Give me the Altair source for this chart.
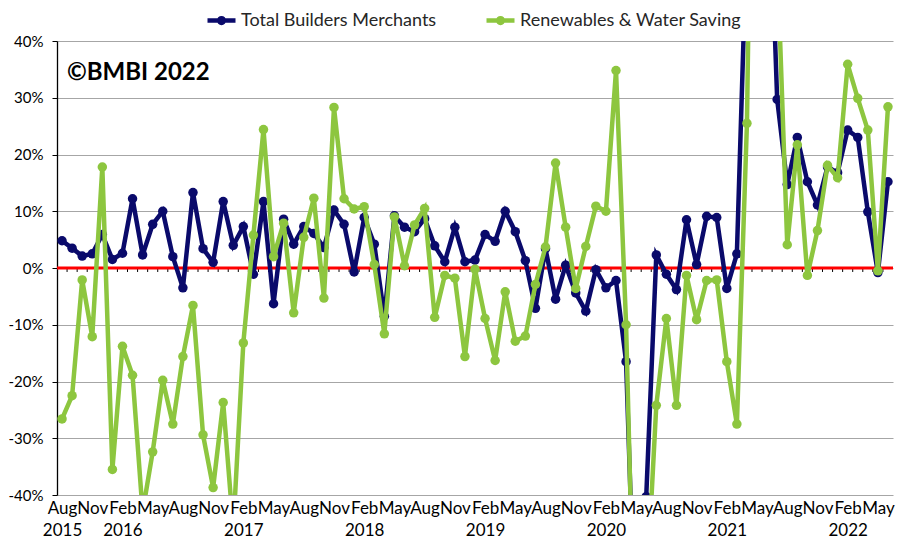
import altair as alt
import pandas as pd

# ---------------- data ----------------
SERIES = ["Total Builders Merchants", "Renewables & Water Saving"]
COLORS = ["#0a0a6b", "#8dc63f"]

MONTHS = ["Jan", "Feb", "Mar", "Apr", "May", "Jun", "Jul", "Aug", "Sep", "Oct", "Nov", "Dec"]
START_YEAR, START_MONTH, N_MONTHS = 2015, 8, 83   # Aug 2015 .. Jun 2022

total_builders = [
    4.8, 3.5, 2.1, 2.5, 5.9, 1.5, 2.6, 12.2, 2.3, 7.7, 10.0, 2.0, -3.5, 13.3,
    3.4, 1.0, 11.7, 4.0, 7.3, -1.1, 11.7, -6.3, 8.6, 4.2, 7.3, 6.1, 3.6, 10.2,
    7.7, -0.7, 8.9, 4.2, -8.5, 9.2, 7.2, 6.4, 8.7, 3.9, 1.1, 7.2, 1.1, 1.4,
    5.9, 4.7, 10.0, 6.4, 1.3, -7.1, 3.4, -5.5, 0.5, -4.4, -7.6, -0.3, -3.5, -2.2,
    -16.5, -70.0, -40.3, 2.3, -1.1, -3.8, 8.5, 0.6, 9.1, 8.9, -3.6, 2.5,
    60.0, 220.0, 80.0, 29.7, 14.7, 23.0, 15.2, 11.1, 17.8, 16.8, 24.3, 23.0, 9.9, -0.8, 15.2,
]
renewables_water = [
    -26.6, -22.5, -2.1, -12.1, 17.8, -35.5, -13.8, -18.9, -43.0, -32.4, -19.8, -27.5, -15.6, -6.6,
    -29.4, -38.7, -23.7, -46.0, -13.2, 5.8, 24.4, 2.0, 7.9, -7.9, 5.4, 12.3, -5.3, 28.3,
    12.2, 10.4, 10.8, 0.6, -11.6, 9.0, 0.4, 7.6, 10.5, -8.7, -1.3, -1.8, -15.6, -0.2,
    -8.9, -16.3, -4.2, -12.9, -12.0, -2.9, 3.7, 18.5, 7.2, -3.6, 3.8, 10.9, 10.0, 34.8,
    -10.0, -80.0, -58.0, -24.2, -8.9, -24.2, -1.3, -9.1, -2.2, -2.1, -16.5, -27.5,
    25.5, 150.0, 120.0, 55.0, 4.1, 21.7, -1.3, 6.6, 18.1, 15.9, 35.9, 29.9, 24.3, -0.5, 28.4,
]
Y_TICKS = [-40, -30, -20, -10, 0, 10, 20, 30, 40]
LABEL_EVERY = 3

# ---------------- derived tables ----------------
ym = [(START_YEAR + (START_MONTH - 1 + k) // 12, (START_MONTH - 1 + k) % 12) for k in range(N_MONTHS)]
tick_idx = list(range(0, N_MONTHS - 1, LABEL_EVERY))
tick_text = []
for k in tick_idx:
    y, m = ym[k]
    t = MONTHS[m]
    if k == 0 or m == 1:
        t += "|" + str(y)
    tick_text.append(t)
label_array = "[" + ",".join("'" + t + "'" for t in tick_text) + "]"
label_expr = f"split({label_array}[round(datum.value / {LABEL_EVERY})], '|')"

rows = []
for name, vals in zip(SERIES, [total_builders, renewables_water]):
    for k, v in enumerate(vals):
        rows.append({"i": k, "series": name, "value": v})
df = pd.DataFrame(rows)
bounds = pd.DataFrame({"i": [k + 0.5 for k in range(N_MONTHS - 1)], "z0": 0.0, "z1": -0.7})

FONT = "Lato"
PATH = "M-1,0L1,0M-0.17,0A0.17,0.17,0,1,1,0.17,0A0.17,0.17,0,1,1,-0.17,0"

x_scale = alt.Scale(domain=[-0.5, N_MONTHS - 0.5], nice=False, zero=False)
y_scale = alt.Scale(domain=[-40, 40], nice=False, zero=False)
x_axis = alt.Axis(values=tick_idx, labelExpr=label_expr, grid=False, domain=False, ticks=False,
                  labelPadding=5, labelFontSize=17, labelLineHeight=22, labelColor="black",
                  labelFont=FONT, labelAngle=0, labelFlush=False, labelOverlap=False,
                  labelBound=False, title=None)
y_axis = alt.Axis(values=Y_TICKS, labelExpr="datum.value + '%'", grid=True, gridColor="#a6a6a6",
                  gridWidth=1, domainColor="black", domainWidth=1.3, tickColor="black", tickSize=5,
                  labelPadding=9, labelFontSize=15, labelColor="black", labelFont=FONT,
                  labelOverlap=False, title=None)
x_enc = alt.X("i:Q", scale=x_scale, axis=x_axis)
y_enc = alt.Y("value:Q", scale=y_scale, axis=y_axis)
color_enc = alt.Color(
    "series:N",
    scale=alt.Scale(domain=SERIES, range=COLORS),
    legend=alt.Legend(title=None, orient="none", legendX=148, legendY=-37, direction="horizontal",
                      symbolType=PATH, symbolSize=784, symbolStrokeWidth=4.5, labelFontSize=18,
                      labelFont=FONT, labelColor="#262626", columnPadding=40, labelOffset=3,
                      labelLimit=0, padding=0),
)

base = alt.Chart(df)

layers = []
for name in SERIES:
    sub = base.transform_filter(alt.datum.series == name)
    layers.append(sub.mark_line(strokeWidth=4.5, clip=True).encode(x=x_enc, y=y_enc, color=color_enc))
    layers.append(sub.mark_point(filled=True, size=90, opacity=1, clip=True).encode(x=x_enc, y=y_enc, color=color_enc))

zero_rule = alt.Chart(pd.DataFrame({"value": [0]})).mark_rule(color="#ff0000", strokeWidth=3).encode(
    y=alt.Y("value:Q", scale=y_scale, axis=y_axis)
)
cat_ticks = alt.Chart(bounds).mark_rule(color="black", strokeWidth=1).encode(
    x=alt.X("i:Q", scale=x_scale, axis=x_axis),
    y=alt.Y("z0:Q", scale=y_scale, axis=y_axis),
    y2="z1:Q",
)

stamp = alt.Chart(pd.DataFrame({"t": ["©BMBI 2022"]})).mark_text(
    align="left", baseline="middle", font=FONT, fontSize=24, fontWeight="bold", color="black"
).encode(text="t:N", x=alt.value(10), y=alt.value(32))

chart = alt.layer(cat_ticks, zero_rule, *layers, stamp).properties(
    width=836, height=454,
    padding={"left": 49, "top": 33, "right": 5, "bottom": 46},
    autosize=alt.AutoSizeParams(type="none"),
).configure_view(stroke=None)

chart.save("out.html", embed_options={"renderer": "svg", "actions": False})
